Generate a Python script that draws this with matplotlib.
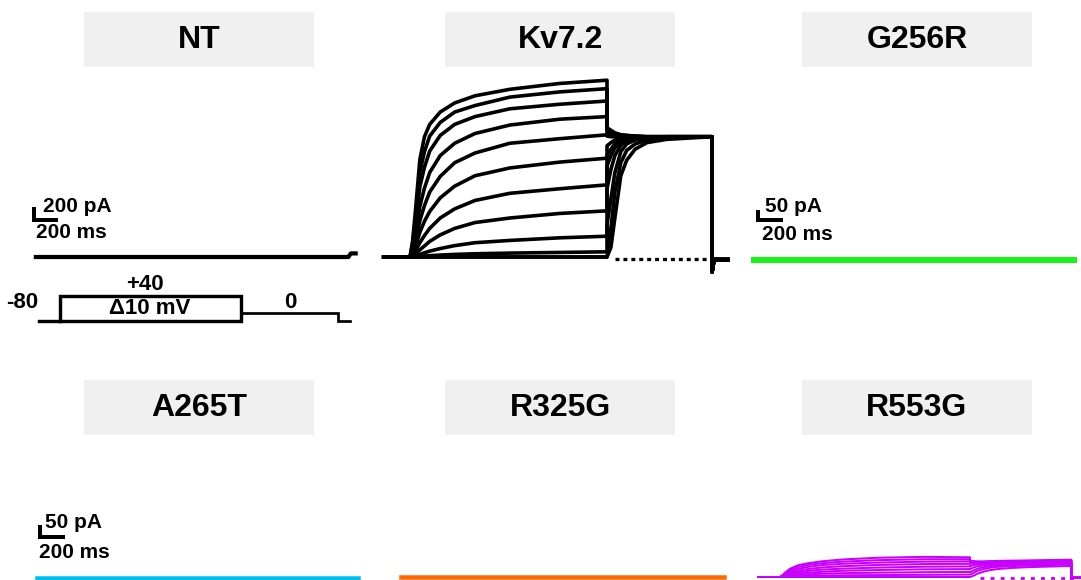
import matplotlib
matplotlib.use("Agg")
import matplotlib.pyplot as plt
from matplotlib.patches import Rectangle

plt.rcParams['font.family'] = ['Liberation Sans', 'DejaVu Sans']

W, H = 1081, 580
PX = 72 / 100  # points per pixel

titles = ["NT", "Kv7.2", "G256R", "A265T", "R325G", "R553G"]
trace_colors = ["black", "black", "#1af01a", "#00bff0", "#ff6a00", "#c800ff"]

# voltage protocol timing (ms)
t_on, t_off, t_tail, t_end = 200, 1700, 2500, 2650
pulse_t = [200, 220, 240, 275, 310, 350, 430, 540, 695, 960, 1340, 1700]
tail_t = [1700, 1730, 1760, 1805, 1850, 1915, 2005, 2155, 2500]
after_t = [2500, 2515, 2620]

# Kv7.2 current family (pA), +40 mV step first
kv_pulse = [
    [0, 250, 680, 1500, 1850, 2040, 2230, 2370, 2480, 2580, 2670, 2720],
    [0, 200, 570, 1300, 1620, 1860, 2070, 2230, 2330, 2460, 2540, 2590],
    [0, 170, 480, 1080, 1380, 1630, 1870, 2040, 2160, 2280, 2350, 2400],
    [0, 110, 320, 780, 1060, 1300, 1560, 1750, 1900, 2030, 2120, 2160],
    [0, 80, 230, 560, 790, 1000, 1240, 1450, 1600, 1750, 1820, 1880],
    [0, 50, 150, 380, 550, 700, 910, 1090, 1250, 1370, 1460, 1520],
    [0, 30, 90, 220, 330, 440, 600, 740, 870, 980, 1050, 1110],
    [0, 15, 40, 110, 170, 240, 340, 440, 530, 600, 670, 710],
    [0, 5, 15, 40, 65, 90, 130, 175, 220, 255, 295, 320],
    [0, 2, 5, 10, 15, 20, 30, 40, 50, 60, 70, 80],
    [0, 0, 0, 0, 0, 0, 0, 0, 0, 0, 0, 0],
    [0, 0, 0, 0, 0, 0, 0, 0, 0, 0, 0, 0],
]
kv_tail = [
    [1990, 1950, 1910, 1880, 1870, 1860, 1850, 1850, 1850],
    [1970, 1930, 1900, 1880, 1870, 1860, 1850, 1850, 1850],
    [1950, 1920, 1890, 1870, 1860, 1855, 1850, 1850, 1850],
    [1900, 1880, 1870, 1860, 1855, 1850, 1850, 1850, 1850],
    [1860, 1850, 1850, 1850, 1850, 1850, 1850, 1850, 1850],
    [1710, 1760, 1800, 1825, 1840, 1845, 1850, 1850, 1850],
    [1560, 1660, 1740, 1800, 1825, 1840, 1850, 1850, 1850],
    [1400, 1560, 1680, 1770, 1810, 1835, 1845, 1850, 1850],
    [1050, 1350, 1560, 1720, 1790, 1825, 1840, 1850, 1850],
    [500, 900, 1300, 1620, 1740, 1800, 1830, 1845, 1850],
    [0, 450, 1000, 1450, 1640, 1740, 1800, 1830, 1850],
    [0, 150, 600, 1250, 1490, 1660, 1760, 1810, 1850],
]
kv_after = [-230, -40, -40]

# R553G current family (pA)
r553g_t0 = 30
r553g_pulse = [
    [0, 8, 18, 33, 42, 50, 58, 66, 73, 80, 84, 82],
    [0, 6, 15, 28, 36, 43, 51, 58, 64, 70, 74, 74],
    [0, 5, 12, 22, 29, 35, 43, 50, 55, 60, 64, 65],
    [0, 4, 9, 17, 22, 27, 34, 40, 45, 50, 54, 55],
    [0, 3, 6, 12, 16, 20, 26, 31, 35, 39, 43, 44],
    [0, 2, 4, 8, 11, 14, 18, 22, 26, 29, 32, 33],
    [0, 1, 2, 5, 6, 8, 11, 14, 16, 18, 20, 21],
    [0, 0, 1, 2, 2, 3, 5, 6, 7, 8, 9, 10],
    [0, 0, 0, 0, 0, 0, 0, 0, 0, 0, 0, 0],
]
r553g_tail = [
    [68, 66, 65, 65, 66, 67, 68, 69, 72],
    [66, 64, 63, 63, 64, 65, 66, 67, 70],
    [62, 61, 61, 61, 62, 63, 64, 65, 68],
    [56, 57, 58, 59, 60, 61, 62, 63, 66],
    [46, 50, 53, 55, 57, 58, 59, 60, 63],
    [34, 40, 45, 49, 52, 54, 55, 57, 60],
    [20, 28, 35, 41, 45, 48, 50, 53, 56],
    [10, 18, 26, 33, 38, 42, 45, 48, 52],
    [0, 6, 14, 22, 28, 33, 37, 41, 46],
]
r553g_after = [-15, -3, -3]

# traces with no visible current
nt_t = [0, 2590, 2610, 2650]
nt_i = [0, 0, 55, 55]
flat_t = [0, 2650]
g256r_i = [0, 0]
a265t_i = [0, 0]
r325g_i = [0, 0]

# schematic protocol drawing (level 0 = -80 mV, 1 = +40 mV)
proto_t = [30, 1700, 1700, 200, 200]
proto_lv = [0, 0, 1, 1, 0]
proto_tail_t = [1700, 2500, 2500, 2600]
proto_tail_lv = [0.32, 0.32, 0, 0]

fig = plt.figure(figsize=(W / 100, H / 100), dpi=100)

bg = fig.add_axes([0, 0, 1, 1])
bg.set_xlim(0, W)
bg.set_ylim(H, 0)
bg.axis('off')
box_x = [84, 445, 802]
box_y = [12, 380]
for k, name in enumerate(titles):
    x0, y0 = box_x[k % 3], box_y[k // 3]
    bg.add_patch(Rectangle((x0, y0), 230, 55, facecolor='#f0f0f0', edgecolor='none'))
    bg.text(x0 + 115, y0 + 28, name, ha='center', va='center',
            fontsize=23, fontweight='bold')


def panel_axes(x_on, x_off, base_y, per_px):
    # maps protocol time / current onto figure pixels
    ms_px = (t_off - t_on) / (x_off - x_on)
    ax = fig.add_axes([0, 0, 1, 1])
    ax.set_xlim(t_on - x_on * ms_px, t_on + (W - x_on) * ms_px)
    ax.set_ylim(-(H - base_y) * per_px, base_y * per_px)
    ax.axis('off')
    return ax


def scale_bar(ax, t, i, lab_i, lab_t, dt, di, off_i, off_t):
    ax.plot([t, t, t + dt], [i + di, i, i], color='black', lw=4 * PX,
            solid_capstyle='butt', solid_joinstyle='miter')
    ax.annotate(lab_i, (t, i), xytext=(off_i[0] * PX, off_i[1] * PX),
                textcoords='offset points', ha='left', va='center',
                fontsize=15, fontweight='bold')
    ax.annotate(lab_t, (t, i), xytext=(off_t[0] * PX, off_t[1] * PX),
                textcoords='offset points', ha='left', va='center',
                fontsize=15, fontweight='bold')


# NT
ax = panel_axes(60, 241, 257, 200 / 13)
ax.plot(nt_t, nt_i, color=trace_colors[0], lw=4.2 * PX)
scale_bar(ax, -15, 570, "200 pA", "200 ms", 200, 200, (9, 13), (2, -13))

pr = panel_axes(60, 241, 321, 1 / 25)
pr.plot(proto_t, proto_lv, color='black', lw=3.4 * PX, solid_joinstyle='miter')
pr.plot(proto_tail_t, proto_tail_lv, color='black', lw=2.7 * PX, solid_joinstyle='miter')
lab = dict(textcoords='offset points', fontsize=16, fontweight='bold', va='center')
pr.annotate("-80", (30, 0), xytext=(-1 * PX, 18 * PX), ha='right', **lab)
pr.annotate("+40", (950, 1), xytext=(-6 * PX, 12 * PX), ha='center', **lab)
pr.annotate("\u039410 mV", (950, 0.5), xytext=(-1 * PX, 0), ha='center', **lab)
pr.annotate("0", (2100, 0.32), xytext=(1 * PX, 10 * PX), ha='center', **lab)

# Kv7.2
ax = panel_axes(410, 607, 257, 200 / 13)
for p, tl in zip(kv_pulse, kv_tail):
    ax.plot([0] + pulse_t + tail_t + after_t, [0] + p + tl + kv_after,
            color=trace_colors[1], lw=3.6 * PX)
ax.plot([1760, 2480], [-30, -30], color='black', lw=3.3 * PX,
        linestyle=(0, (1.2, 1.2)), dash_capstyle='butt')

# G256R
ax = panel_axes(778, 959, 260, 50 / 10)
ax.plot(flat_t, g256r_i, color=trace_colors[2], lw=6 * PX)
scale_bar(ax, 38, 200, "50 pA", "200 ms", 200, 50, (7, 13), (4, -15))

# A265T
ax = panel_axes(61, 243, 578, 50 / 12)
ax.plot(flat_t, a265t_i, color=trace_colors[3], lw=4.5 * PX)
scale_bar(ax, 29, 169, "50 pA", "200 ms", 200, 50, (5, 15), (-1, -15))

# R325G
ax = panel_axes(425, 608, 577, 50 / 12)
ax.plot(flat_t, r325g_i, color=trace_colors[4], lw=4.5 * PX)

# R553G
ax = panel_axes(780, 970, 577, 50 / 12)
for p, tl in zip(r553g_pulse, r553g_tail):
    ax.plot([r553g_t0] + pulse_t + tail_t + after_t, [0] + p + tl + r553g_after,
            color=trace_colors[5], lw=2 * PX)
ax.plot([1780, 2450], [-5, -5], color=trace_colors[5], lw=2.8 * PX,
        linestyle=(0, (1.4, 2.2)), dash_capstyle='butt')

fig.savefig("out.png", dpi=100)
